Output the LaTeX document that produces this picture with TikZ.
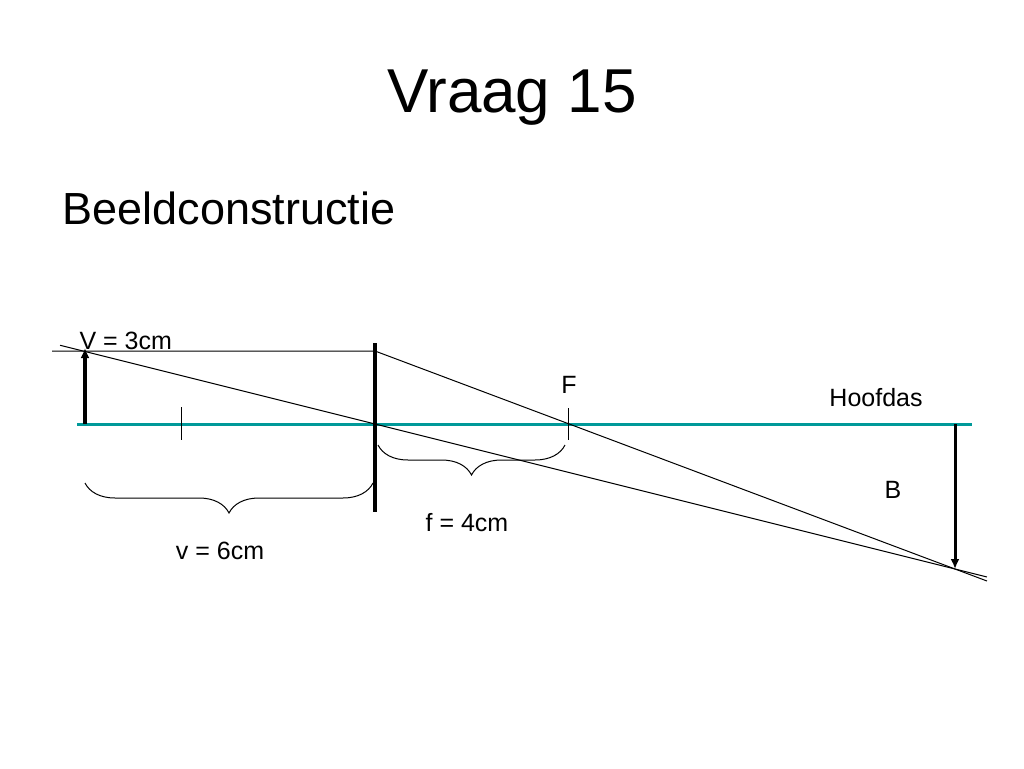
\documentclass[tikz,border=0pt]{standalone}
\usepackage{fontspec}
\setmainfont{Liberation Sans}
\usetikzlibrary{decorations.pathreplacing,calc,arrows.meta}
\definecolor{asteal}{RGB}{0,153,153}

\begin{document}
\begin{tikzpicture}[x=1pt, y=-1pt, line width=1pt]
	\useasboundingbox (0,0) rectangle (1024,768);
	\node[inner sep=0] (title) at (512,98) {\fontsize{62}{74}\selectfont Vraag 15};
	\node[inner sep=0, anchor=west] (sub) at (62,208) {\fontsize{45}{54}\selectfont Beeldconstructie};
	% punten
	\coordinate (axl) at (77,424);
	\coordinate (axr) at (972,424);
	\coordinate (lt) at (375,343);
	\coordinate (lb) at (375,512);
	\coordinate (lc) at (375,424);
	\coordinate (lh) at (375,351);
	\coordinate (vb) at (85,424);
	\coordinate (vt) at (85,348);
	\coordinate (fl) at (181,424);
	\coordinate (fr) at (568,424);
	\coordinate (bt) at (955,424);
	\coordinate (bb) at (955,569);
	\coordinate (r1s) at (52,351);
	\coordinate (r1e) at ($(lh)!1.055!(bb)$);
	\coordinate (r2s) at ($(bb)!1.543!(lc)$);
	\coordinate (r2e) at ($(lc)!1.055!(bb)$);
	% hoofdas en lens
	\draw[asteal, line width=3pt] (axl) -- (axr);
	\draw[line width=4pt] (lt) -- (lb);
	\draw ($(fl)+(0,-17)$) -- ($(fl)+(0,16)$);
	\draw ($(fr)+(0,-16)$) -- ($(fr)+(0,16)$);
	% voorwerp en beeld
	\draw[-{Latex[length=10pt, width=9pt]}, line width=3.5pt] (vb) -- (vt);
	\draw[-{Latex[length=10pt, width=9pt]}, line width=3pt] (bt) -- (bb);
	% stralen
	\draw (r1s) -- (lh) -- (r1e);
	\draw (r2s) -- (lc) -- (r2e);
	% accolades
	\draw[decorate, decoration={brace, amplitude=30pt, mirror}] (85,483) -- (373,483);
	\draw[decorate, decoration={brace, amplitude=30pt, mirror}] (378,445) -- (565,445);
	% labels
	\node[inner sep=0, anchor=west] (vlab) at (79,341) {\fontsize{25}{30}\selectfont V = 3cm};
	\node[inner sep=0] (flab) at (569,385) {\fontsize{25}{30}\selectfont F};
	\node[inner sep=0] (as) at (876,398) {\fontsize{25}{30}\selectfont Hoofdas};
	\node[inner sep=0] (blab) at (893,490) {\fontsize{25}{30}\selectfont B};
	\node[inner sep=0] (fafst) at (467,523) {\fontsize{25}{30}\selectfont f = 4cm};
	\node[inner sep=0] (vafst) at (220,551) {\fontsize{25}{30}\selectfont v = 6cm};
\end{tikzpicture}
\end{document}
